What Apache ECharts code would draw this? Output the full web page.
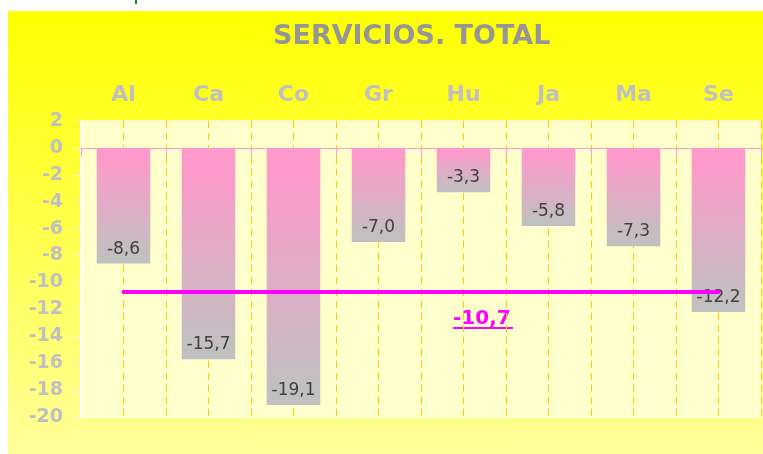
<!DOCTYPE html>
<html>
<head>
<meta charset="utf-8">
<script src="https://cdn.jsdelivr.net/npm/echarts@6/dist/echarts.min.js"></script>
<style>
  html, body { margin: 0; padding: 0; background: #fff; }
  #bg {
    position: absolute; left: 8px; top: 11px; width: 755px; height: 443px;
    background: linear-gradient(to bottom, #ffff00 0%, #ffff99 100%);
  }
  #mark { position: absolute; left: 135px; top: 0; width: 2px; height: 4px; background: #1a8a1a; }
  #main { position: absolute; left: 0; top: 0; width: 763px; height: 454px; }
</style>
</head>
<body>
<div id="bg"></div>
<div id="mark"></div>
<div id="main"></div>
<script>
// datos
const categories = ['Al', 'Ca', 'Co', 'Gr', 'Hu', 'Ja', 'Ma', 'Se'];
const values = [-8.6, -15.7, -19.1, -7.0, -3.3, -5.8, -7.3, -12.2];
const avgValue = -10.7;
const titleText = 'SERVICIOS. TOTAL';

(function () {
  const myChart = echarts.init(document.getElementById('main'));
  const fmt = function (v) { return v.toFixed(1).replace('.', ','); };
  const font = 'DejaVu Sans, Verdana, sans-serif';

  let option = {
    animation: false,
    textStyle: { fontFamily: font },
    title: {
      text: titleText,
      left: 268,
      top: 18,
      textStyle: { color: '#969696', fontSize: 27, fontWeight: 'bold', fontFamily: font }
    },
    grid: {
      left: 81,
      right: 2,
      top: 121,
      bottom: 37,
      show: true,
      backgroundColor: '#ffffcc',
      borderColor: '#ffffff',
      borderWidth: 1
    },
    xAxis: [{
        // etiquetas arriba
        type: 'category',
        data: categories,
        position: 'top',
        axisLine: { show: false, onZero: false },
        axisTick: { show: false },
        axisLabel: {
          color: '#c0c0c0',
          fontSize: 22,
          fontWeight: 'bold',
          margin: 15
        },
        splitLine: { show: false }
      },
      {
        // línea del cero
        type: 'category',
        data: categories,
        position: 'bottom',
        axisLine: { onZero: true, lineStyle: { color: '#ff99cc', width: 1 } },
        axisTick: { show: true, length: 9, lineStyle: { color: '#ff99cc' } },
        axisLabel: { show: false },
        splitLine: { show: false }
      },
      {
        // líneas verticales discontinuas
        type: 'value',
        min: 0,
        max: 16,
        interval: 1,
        show: true,
        axisLine: { show: false },
        axisTick: { show: false },
        axisLabel: { show: false },
        splitLine: {
          show: true,
          lineStyle: { color: '#ffcc00', width: 1, type: [7, 5] }
        }
      }
    ],
    yAxis: {
      type: 'value',
      min: -20,
      max: 2,
      interval: 2,
      axisLine: { show: true, lineStyle: { color: '#ffffff', width: 2 } },
      axisTick: { show: true, length: 6, lineStyle: { color: '#ffffff' } },
      axisLabel: {
        color: '#c0c0c0',
        fontSize: 19,
        fontWeight: 'bold',
        margin: 18
      },
      splitLine: { show: false }
    },
    series: [{
      name: 'Servicios',
      type: 'bar',
      xAxisIndex: 0,
      barWidth: '63%',
      data: values,
      itemStyle: {
        color: new echarts.graphic.LinearGradient(0, 0, 0, 1, [
          { offset: 0, color: '#ff99cc' },
          { offset: 0.1, color: '#fd9acb' },
          { offset: 0.95, color: '#c0c0c0' },
          { offset: 1, color: '#c0c0c0' }
        ])
      },
      label: {
        show: true,
        position: 'insideBottom',
        distance: 6,
        color: '#404040',
        fontSize: 17,
        formatter: function (p) { return fmt(p.value); }
      },
      markLine: {
        silent: true,
        symbol: 'none',
        label: { show: false },
        lineStyle: { color: '#ff00ff', width: 4, type: 'solid', cap: 'round' },
        data: [[
          { coord: [0, avgValue] },
          { coord: [categories.length - 1, avgValue] }
        ]]
      }
    }],
    graphic: [{
        type: 'text',
        left: 453,
        top: 309,
        style: {
          text: fmt(avgValue),
          fill: '#ff00ff',
          font: 'bold 20px ' + font
        }
      },
      {
        type: 'rect',
        shape: { x: 453, y: 327, width: 60, height: 2 },
        style: { fill: '#ff00ff' }
      }
    ]
  };
  myChart.setOption(option);
  window.addEventListener('resize', function () {
    myChart.resize();
  });
})();
</script>
</body>
</html>
